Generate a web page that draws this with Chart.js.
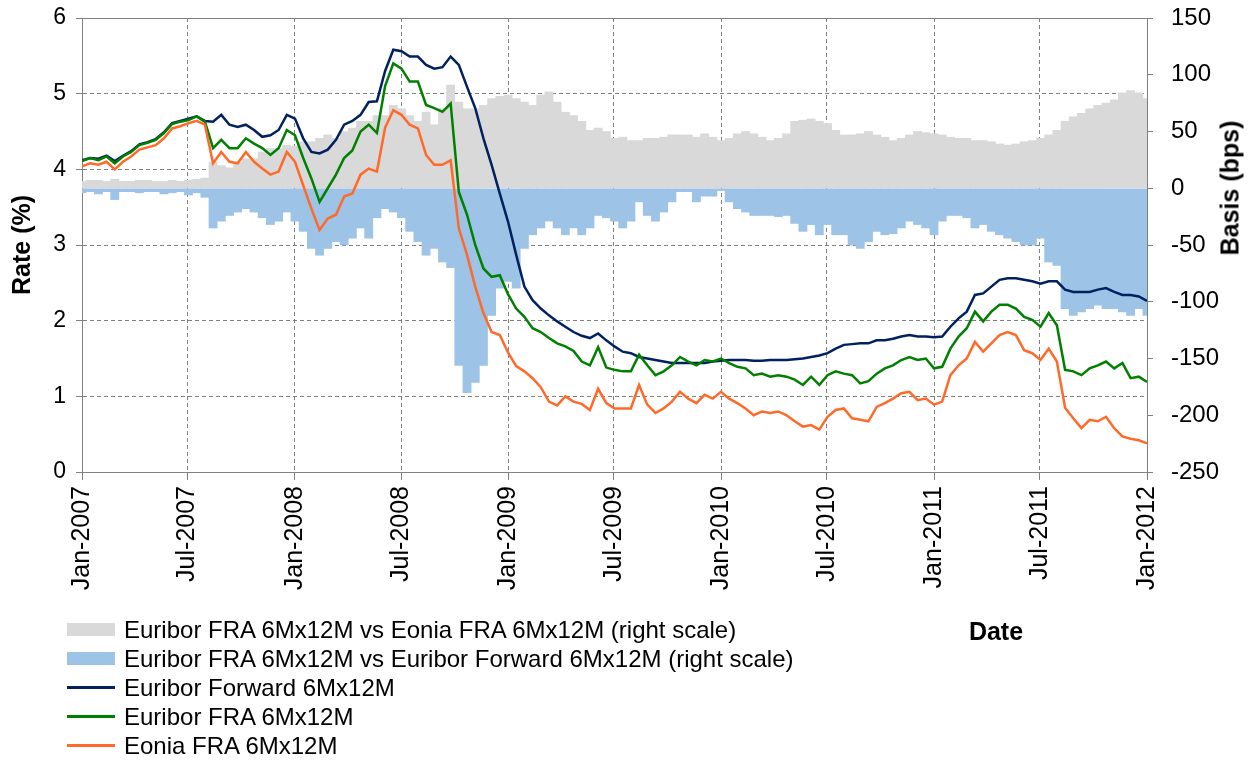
<!DOCTYPE html>
<html>
<head>
<meta charset="utf-8">
<title>Euribor FRA basis</title>
<script src="https://cdn.jsdelivr.net/npm/chart.js@4.4.1/dist/chart.umd.min.js"></script>
<style>
  html, body { margin: 0; padding: 0; background: #ffffff; }
  #wrap { position: relative; width: 1251px; height: 760px; overflow: hidden; font-family: "Liberation Sans", Arial, sans-serif; color: #000; }
  #chart { position: absolute; left: 0; top: 0; }
  #legend { position: absolute; left: 67px; top: 615px; }
  .lg-item { display: flex; align-items: center; height: 29px; font-size: 24px; white-space: nowrap; }
  .lg-swatch { width: 48px; margin-right: 9px; flex: none; }
  #dateTitle { position: absolute; left: 996px; top: 631px; transform: translate(-50%, -50%); font-weight: bold; font-size: 25px; white-space: nowrap; }
  #basisTitle { position: absolute; left: 1230px; top: 188px; transform: translate(-50%, -50%) rotate(-90deg); font-weight: bold; font-size: 25px; white-space: nowrap; }
</style>
</head>
<body>
<div id="wrap">
  <canvas id="chart" width="1251" height="760"></canvas>
  <div id="legend"></div>
  <div id="dateTitle">Date</div>
  <div id="basisTitle">Basis (bps)</div>
</div>
<script>
// ---- tick labels (x axis, every 6 months) ----
const tickLabels = ['Jan-2007','Jul-2007','Jan-2008','Jul-2008','Jan-2009','Jul-2009','Jan-2010','Jul-2010','Jan-2011','Jul-2011','Jan-2012'];
const tickDates  = ['2007-01-01','2007-07-01','2008-01-01','2008-07-01','2009-01-01','2009-07-01','2010-01-01','2010-07-01','2011-01-01','2011-07-01','2012-01-01'];

// ---- series (sampled about every two weeks, Jan-2007 .. Jan-2012) ----
const euriborForward = [
  4.12,4.15,4.14,4.18,4.11,4.18,4.24,4.33,4.36,4.40,
  4.49,4.61,4.64,4.67,4.70,4.64,4.63,4.72,4.59,4.56,
  4.59,4.52,4.43,4.45,4.52,4.72,4.67,4.41,4.23,4.21,
  4.26,4.39,4.59,4.64,4.72,4.89,4.90,5.30,5.58,5.56,
  5.49,5.49,5.38,5.33,5.35,5.49,5.38,5.09,4.81,4.41,
  4.06,3.68,3.31,2.87,2.45,2.27,2.16,2.07,1.99,1.92,
  1.85,1.80,1.77,1.83,1.74,1.66,1.59,1.57,1.52,1.50,
  1.48,1.46,1.44,1.44,1.44,1.44,1.44,1.46,1.47,1.48,
  1.48,1.48,1.47,1.47,1.48,1.48,1.48,1.49,1.50,1.52,
  1.54,1.57,1.63,1.68,1.69,1.70,1.70,1.74,1.74,1.76,
  1.79,1.81,1.79,1.79,1.78,1.79,1.92,2.03,2.12,2.34,
  2.36,2.45,2.54,2.56,2.56,2.54,2.52,2.49,2.52,2.52,
  2.41,2.38,2.38,2.38,2.41,2.43,2.38,2.34,2.34,2.32,2.26
];
const euriborFRA = [
  4.11,4.15,4.12,4.17,4.08,4.17,4.23,4.32,4.35,4.39,
  4.48,4.60,4.63,4.65,4.70,4.63,4.28,4.39,4.28,4.28,
  4.41,4.34,4.28,4.19,4.28,4.52,4.45,4.15,3.88,3.57,
  3.75,3.93,4.15,4.25,4.50,4.59,4.48,5.10,5.40,5.33,
  5.16,5.16,4.85,4.81,4.76,4.87,3.70,3.40,3.00,2.69,
  2.58,2.60,2.35,2.16,2.05,1.90,1.85,1.77,1.70,1.66,
  1.60,1.46,1.41,1.65,1.38,1.35,1.33,1.33,1.55,1.41,
  1.28,1.33,1.41,1.52,1.46,1.41,1.48,1.46,1.50,1.44,
  1.39,1.37,1.28,1.30,1.26,1.28,1.26,1.22,1.15,1.26,
  1.15,1.28,1.33,1.30,1.28,1.17,1.20,1.30,1.37,1.41,
  1.48,1.52,1.48,1.50,1.37,1.39,1.63,1.79,1.90,2.12,
  1.99,2.12,2.21,2.21,2.16,2.05,2.01,1.92,2.10,1.94,
  1.35,1.33,1.28,1.37,1.41,1.46,1.37,1.44,1.24,1.26,1.19
];
const eoniaFRA = [
  4.04,4.08,4.06,4.10,4.00,4.10,4.17,4.26,4.29,4.32,
  4.41,4.54,4.57,4.61,4.64,4.59,4.08,4.23,4.10,4.08,
  4.23,4.10,4.01,3.93,3.97,4.23,4.10,3.79,3.48,3.20,
  3.35,3.40,3.64,3.68,3.93,4.01,3.97,4.55,4.78,4.72,
  4.59,4.54,4.19,4.06,4.06,4.12,3.22,2.87,2.45,2.10,
  1.85,1.81,1.58,1.40,1.33,1.24,1.12,0.93,0.88,1.00,
  0.93,0.90,0.82,1.10,0.91,0.84,0.84,0.84,1.15,0.89,
  0.78,0.84,0.93,1.06,0.97,0.91,1.02,0.97,1.06,0.97,
  0.91,0.84,0.75,0.80,0.78,0.80,0.75,0.67,0.60,0.62,
  0.56,0.73,0.82,0.84,0.71,0.69,0.67,0.86,0.91,0.97,
  1.04,1.06,0.95,0.97,0.89,0.93,1.28,1.41,1.50,1.72,
  1.59,1.70,1.81,1.85,1.81,1.61,1.57,1.48,1.63,1.46,
  0.85,0.71,0.58,0.69,0.67,0.73,0.58,0.47,0.44,0.42,0.38
];
// basis in bps (right scale)
const basisVsEonia = [
  6,7,7,6,8,6,6,7,7,6,6,7,6,7,8,9,
  23,20,18,23,26,26,32,35,35,38,37,41,41,44,47,44,50,53,
  59,59,64,64,73,70,64,59,67,56,70,91,76,70,70,73,79,81,82,79,76,73,82,85,76,67,64,59,51,53,50,44,45,
  42,42,44,44,45,47,47,47,45,48,45,42,44,48,50,48,45,42,44,48,59,60,61,59,57,51,47,47,48,50,47,45,42,
  44,47,50,49,48,47,45,44,44,42,42,41,39,38,39,41,42,44,47,51,59,63,66,70,73,75,78,84,86,84,79
];
const basisVsForward = [
  -4,-3,-5,-3,-10,-3,-3,-4,-3,-3,-5,-4,-3,-6,-4,-8,
  -35,-29,-24,-21,-18,-21,-26,-32,-29,-21,-29,-38,-53,-59,-53,-47,-50,-44,
  -35,-44,-26,-18,-21,-26,-38,-47,-59,-53,-65,-70,-156,-180,-171,-156,-112,-88,-82,-88,-53,-41,-35,-29,-35,-41,-35,-41,-35,-24,-26,-29,-35,
  -29,-12,-24,-29,-21,-12,-3,-3,-12,-7,-7,-2,-12,-18,-21,-24,-24,-24,-25,-24,-31,-38,-32,-41,-32,-41,-41,-50,-53,-47,-38,-41,-40,
  -35,-29,-32,-35,-41,-29,-24,-24,-26,-35,-32,-38,-41,-44,-47,-50,-50,-44,-65,-68,-106,-112,-109,-106,-103,-106,-106,-109,-112,-106,-112
];

const seriesLabels = [
  'Euribor FRA 6Mx12M vs Eonia FRA 6Mx12M (right scale)',
  'Euribor FRA 6Mx12M vs Euribor Forward 6Mx12M (right scale)',
  'Euribor Forward 6Mx12M',
  'Euribor FRA 6Mx12M',
  'Eonia FRA 6Mx12M'
];

// ---- build x positions (days since 1-Jan-2007) ----
const DAY = 86400000;
const startMs = Date.UTC(2007, 0, 1);
const endMs = Date.UTC(2012, 0, 1);
const totalDays = (endMs - startMs) / DAY;
const tickDays = tickDates.map(d => Math.round((Date.parse(d) - startMs) / DAY));
const nSamples = euriborForward.length;
const sampleDays = euriborForward.map((_, i) => i * totalDays / (nSamples - 1));
const pts = arr => arr.map((v, i) => ({ x: sampleDays[i], y: v }));

Chart.defaults.font.family = '"Liberation Sans", Arial, sans-serif';
Chart.defaults.color = '#000';
const gridColor = '#808080';
const dashed = [4, 3];
const noPad = s => { s.paddingTop = 0; s.paddingBottom = 0; s.paddingLeft = 0; s.paddingRight = 0; };

const chart = new Chart(document.getElementById('chart'), {
  type: 'bar',
  data: {
    datasets: [
      { type: 'bar', label: seriesLabels[0], data: pts(basisVsEonia), yAxisID: 'y2',
        backgroundColor: '#d9d9d9', borderWidth: 0, grouped: false, barPercentage: 1, categoryPercentage: 1, order: 6 },
      { type: 'bar', label: seriesLabels[1], data: pts(basisVsForward), yAxisID: 'y2',
        backgroundColor: '#9dc3e6', borderWidth: 0, grouped: false, barPercentage: 1, categoryPercentage: 1, order: 5 },
      { type: 'line', label: seriesLabels[2], data: pts(euriborForward), yAxisID: 'y',
        borderColor: '#002060', backgroundColor: '#002060', borderWidth: 2.5, pointRadius: 0, tension: 0, fill: false, order: 3 },
      { type: 'line', label: seriesLabels[3], data: pts(euriborFRA), yAxisID: 'y',
        borderColor: '#008000', backgroundColor: '#008000', borderWidth: 2.5, pointRadius: 0, tension: 0, fill: false, order: 2 },
      { type: 'line', label: seriesLabels[4], data: pts(eoniaFRA), yAxisID: 'y',
        borderColor: '#ff6a2a', backgroundColor: '#ff6a2a', borderWidth: 2.5, pointRadius: 0, tension: 0, fill: false, order: 1 }
    ]
  },
  options: {
    responsive: false,
    maintainAspectRatio: false,
    animation: false,
    events: [],
    layout: { autoPadding: false, padding: { top: 18, left: 0, right: 0, bottom: 0 } },
    plugins: { legend: { display: false }, tooltip: { enabled: false } },
    scales: {
      x: {
        type: 'linear', position: 'bottom', min: 0, max: totalDays, offset: false,
        afterBuildTicks: s => { s.ticks = tickDays.map(v => ({ value: v })); },
        ticks: {
          autoSkip: false, minRotation: 90, maxRotation: 90, padding: 6, color: '#000',
          font: { size: 25 },
          callback: v => { const k = tickDays.indexOf(v); return k >= 0 ? tickLabels[k] : ''; }
        },
        grid: { color: gridColor, lineWidth: 1, offset: false, tickLength: 8, tickColor: gridColor },
        border: { display: true, color: gridColor, width: 1,
          dash: c => (c.tick && c.tick.value > 0 && c.tick.value < totalDays) ? dashed : [] },
        afterFit: s => { s.height = 288; noPad(s); }
      },
      y: {
        type: 'linear', position: 'left', min: 0, max: 6,
        ticks: { stepSize: 1, padding: 10, color: '#000', font: { size: 23 } },
        grid: { color: gridColor, lineWidth: 1, tickLength: 6, tickColor: gridColor },
        border: { display: true, color: gridColor, width: 1,
          dash: c => (c.tick && c.tick.value > 0 && c.tick.value < 6) ? dashed : [] },
        title: { display: true, text: 'Rate (%)', color: '#000', font: { size: 25, weight: 'bold' }, padding: { top: 8, bottom: 0 } },
        afterFit: s => { s.width = 82; noPad(s); }
      },
      y2: {
        type: 'linear', position: 'right', min: -250, max: 150,
        ticks: { stepSize: 50, padding: 18, color: '#000', font: { size: 24 } },
        grid: { drawOnChartArea: false, color: gridColor, tickLength: 6, tickColor: gridColor },
        border: { display: true, color: gridColor, width: 1 },
        afterFit: s => { s.width = 104; noPad(s); }
      }
    }
  }
});

// ---- HTML legend built from the datasets ----
const legendEl = document.getElementById('legend');
chart.data.datasets.forEach(ds => {
  const row = document.createElement('div');
  row.className = 'lg-item';
  const sw = document.createElement('span');
  sw.className = 'lg-swatch';
  if (ds.type === 'bar') { sw.style.height = '13px'; sw.style.background = ds.backgroundColor; }
  else { sw.style.height = '3px'; sw.style.background = ds.borderColor; }
  const tx = document.createElement('span');
  tx.textContent = ds.label;
  row.appendChild(sw); row.appendChild(tx);
  legendEl.appendChild(row);
});
</script>
</body>
</html>
